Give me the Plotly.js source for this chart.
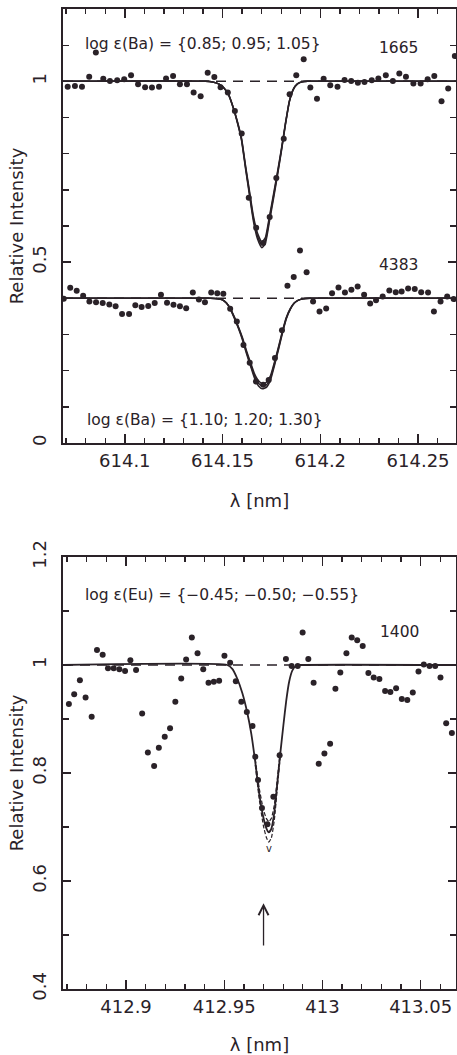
<!DOCTYPE html>
<html>
<head>
<meta charset="utf-8">
<script src="https://cdn.plot.ly/plotly-3.0.1.min.js"></script>
<style>html,body{margin:0;padding:0;background:#fff;}#chart{width:457px;height:1055px;}</style>
</head>
<body>
<div id="chart"></div>
<script>
// ---------- Ba II 614.17 nm panel ----------
const ba1665Wl = [614.0708, 614.0745, 614.0781, 614.0818, 614.0852, 614.0890, 614.0924, 614.0961, 614.0997, 614.1032, 614.1068, 614.1104, 614.1139, 614.1175, 614.1211, 614.1247, 614.1282, 614.1318, 614.1352, 614.1388, 614.1424, 614.1458, 614.1490, 614.1527, 614.1563, 614.1598, 614.1634, 614.1672, 614.1708, 614.1741, 614.1775, 614.1813, 614.1843, 614.1877, 614.1915, 614.1949, 614.1983, 614.2017, 614.2051, 614.2088, 614.2124, 614.2158, 614.2192, 614.2226, 614.2263, 614.2297, 614.2335, 614.2371, 614.2404, 614.2438, 614.2476, 614.2513, 614.2549, 614.2583, 614.2620, 614.2654, 614.2688];
const ba1665Int = [0.985, 0.987, 0.985, 1.013, 1.080, 1.007, 1.001, 1.003, 1.006, 1.017, 0.992, 0.984, 0.983, 0.985, 1.008, 1.015, 0.992, 0.992, 0.969, 0.959, 1.024, 1.012, 0.984, 0.969, 0.918, 0.856, 0.678, 0.595, 0.553, 0.625, 0.733, 0.841, 0.964, 1.017, 1.061, 0.983, 0.952, 1.007, 0.989, 0.985, 1.004, 1.001, 0.996, 0.998, 1.003, 1.008, 1.017, 1.001, 1.022, 1.013, 0.994, 0.994, 1.006, 1.015, 0.945, 0.980, 1.070];

const ba4383Wl = [614.0688, 614.0721, 614.0754, 614.0787, 614.0819, 614.0853, 614.0887, 614.0921, 614.0953, 614.0986, 614.1022, 614.1054, 614.1086, 614.1120, 614.1153, 614.1185, 614.1216, 614.1249, 614.1282, 614.1314, 614.1348, 614.1379, 614.1410, 614.1442, 614.1473, 614.1504, 614.1539, 614.1573, 614.1607, 614.1639, 614.1671, 614.1708, 614.1736, 614.1768, 614.1804, 614.1832, 614.1864, 614.1896, 614.1930, 614.1963, 614.1996, 614.2030, 614.2060, 614.2093, 614.2126, 614.2159, 614.2191, 614.2224, 614.2255, 614.2285, 614.2319, 614.2353, 614.2386, 614.2416, 614.2449, 614.2483, 614.2516, 614.2551, 614.2581, 614.2615, 614.2649, 614.2682];
const ba4383Int = [0.399, 0.429, 0.421, 0.407, 0.391, 0.389, 0.387, 0.383, 0.378, 0.357, 0.357, 0.381, 0.376, 0.379, 0.387, 0.410, 0.388, 0.382, 0.378, 0.373, 0.416, 0.397, 0.389, 0.416, 0.414, 0.413, 0.371, 0.336, 0.271, 0.222, 0.170, 0.161, 0.174, 0.235, 0.312, 0.435, 0.459, 0.532, 0.472, 0.391, 0.364, 0.372, 0.414, 0.430, 0.416, 0.424, 0.433, 0.410, 0.386, 0.395, 0.405, 0.422, 0.417, 0.419, 0.427, 0.426, 0.417, 0.416, 0.364, 0.391, 0.405, 0.398];

// synthetic spectra, log eps(Ba) = 0.85 / 0.95 / 1.05  (star 1665)
const syn1665Wl = [614.0684, 614.1413, 614.1449, 614.1480, 614.1505, 614.1531, 614.1556, 614.1577, 614.1597, 614.1617, 614.1638, 614.1658, 614.1679, 614.1701, 614.1719, 614.1740, 614.1760, 614.1781, 614.1801, 614.1821, 614.1842, 614.1862, 614.1883, 614.1908, 614.1939, 614.2694];
const syn1665A  = [1.000, 1.000, 0.998, 0.993, 0.983, 0.964, 0.926, 0.887, 0.843, 0.769, 0.696, 0.627, 0.580, 0.556, 0.568, 0.627, 0.686, 0.750, 0.813, 0.882, 0.946, 0.978, 0.993, 0.999, 1.000, 1.000];
const syn1665B  = [1.000, 1.000, 0.998, 0.993, 0.983, 0.963, 0.925, 0.885, 0.840, 0.765, 0.690, 0.620, 0.572, 0.548, 0.560, 0.620, 0.680, 0.745, 0.810, 0.880, 0.945, 0.978, 0.993, 0.999, 1.000, 1.000];
const syn1665C  = [1.000, 1.000, 0.998, 0.993, 0.983, 0.962, 0.924, 0.883, 0.837, 0.761, 0.684, 0.613, 0.564, 0.540, 0.552, 0.613, 0.674, 0.740, 0.807, 0.878, 0.944, 0.978, 0.993, 0.999, 1.000, 1.000];

// synthetic spectra, log eps(Ba) = 1.10 / 1.20 / 1.30  (star 4383)
const syn4383Wl = [614.0684, 614.1439, 614.1475, 614.1500, 614.1520, 614.1541, 614.1561, 614.1582, 614.1602, 614.1622, 614.1643, 614.1663, 614.1684, 614.1704, 614.1724, 614.1745, 614.1765, 614.1786, 614.1806, 614.1826, 614.1847, 614.1867, 614.1888, 614.1913, 614.1949, 614.2694];
const syn4383A  = [0.400, 0.400, 0.399, 0.396, 0.387, 0.371, 0.348, 0.320, 0.291, 0.256, 0.223, 0.192, 0.172, 0.164, 0.168, 0.186, 0.223, 0.266, 0.309, 0.347, 0.372, 0.387, 0.395, 0.399, 0.400, 0.400];
const syn4383B  = [0.400, 0.400, 0.399, 0.396, 0.387, 0.370, 0.346, 0.318, 0.288, 0.252, 0.218, 0.186, 0.165, 0.157, 0.161, 0.180, 0.218, 0.262, 0.306, 0.345, 0.371, 0.387, 0.395, 0.399, 0.400, 0.400];
const syn4383C  = [0.400, 0.400, 0.399, 0.396, 0.387, 0.369, 0.344, 0.316, 0.285, 0.248, 0.213, 0.180, 0.158, 0.150, 0.154, 0.174, 0.213, 0.258, 0.303, 0.343, 0.370, 0.387, 0.395, 0.399, 0.400, 0.400];

const baContinuumWl = [614.0684, 614.2694];
const ba1665Cont = [1.0, 1.0];
const ba4383Cont = [0.40, 0.40];

// ---------- Eu II 412.97 nm panel ----------
const eu1400Wl = [412.8709, 412.8736, 412.8765, 412.8794, 412.8825, 412.8852, 412.8881, 412.8908, 412.8937, 412.8966, 412.8995, 412.9022, 412.9051, 412.9082, 412.9111, 412.9143, 412.9167, 412.9197, 412.9224, 412.9251, 412.9281, 412.9306, 412.9335, 412.9364, 412.9393, 412.9420, 412.9447, 412.9474, 412.9501, 412.9530, 412.9559, 412.9587, 412.9615, 412.9644, 412.9658, 412.9672, 412.9692, 412.9720, 412.9750, 412.9782, 412.9814, 412.9843, 412.9874, 412.9899, 412.9928, 412.9955, 412.9981, 413.0010, 413.0039, 413.0066, 413.0091, 413.0122, 413.0149, 413.0177, 413.0205, 413.0234, 413.0261, 413.0290, 413.0319, 413.0346, 413.0375, 413.0404, 413.0432, 413.0460, 413.0489, 413.0516, 413.0545, 413.0574, 413.0601, 413.0630, 413.0659];
const eu1400Int = [0.928, 0.946, 0.972, 0.940, 0.904, 1.028, 1.019, 0.994, 0.994, 0.992, 0.989, 1.009, 0.991, 0.910, 0.838, 0.813, 0.847, 0.867, 0.883, 0.932, 0.975, 1.010, 1.051, 1.022, 0.992, 0.967, 0.969, 0.971, 1.017, 1.004, 0.970, 0.932, 0.913, 0.887, 0.830, 0.787, 0.735, 0.705, 0.756, 0.833, 1.011, 0.998, 0.998, 1.060, 1.011, 0.967, 0.817, 0.836, 0.854, 0.956, 0.986, 1.022, 1.051, 1.046, 1.035, 0.985, 0.977, 0.974, 0.952, 0.950, 0.957, 0.937, 0.935, 0.949, 0.988, 1.001, 0.998, 0.998, 0.977, 0.892, 0.874];

// synthetic, log eps(Eu) = -0.50 (solid)
const synEuWl  = [412.8679, 412.9515, 412.9541, 412.9566, 412.9592, 412.9617, 412.9638, 412.9658, 412.9678, 412.9699, 412.9714, 412.9727, 412.9740, 412.9755, 412.9770, 412.9785, 412.9801, 412.9816, 412.9831, 412.9847, 412.9867, 412.9887, 413.0680];
const synEuMid = [1.000, 1.000, 0.993, 0.975, 0.948, 0.912, 0.872, 0.820, 0.762, 0.718, 0.698, 0.690, 0.697, 0.727, 0.780, 0.835, 0.888, 0.935, 0.970, 0.990, 0.999, 1.000, 1.000];
// log eps(Eu) = -0.55 and -0.45 (dashed, visible only in the core)
const synEuCoreWl = [412.9658, 412.9678, 412.9699, 412.9714, 412.9727, 412.9740, 412.9755, 412.9770, 412.9785];
const synEuLow    = [0.826, 0.772, 0.733, 0.716, 0.710, 0.716, 0.741, 0.789, 0.840];
const synEuHigh   = [0.815, 0.752, 0.703, 0.681, 0.672, 0.680, 0.713, 0.771, 0.830];
const euContinuumWl = [412.8679, 413.0680];
const euCont = [1.0, 1.0];

// ticks
const baXTicks = [614.1, 614.15, 614.2, 614.25];
const baXTickText = ['614.1', '614.15', '614.2', '614.25'];
const baYTicks = [0, 0.5, 1];
const baYTickText = ['0', '0.5', '1'];
const euXTicks = [412.9, 412.95, 413, 413.05];
const euXTickText = ['412.9', '412.95', '413', '413.05'];
const euYTicks = [0.4, 0.6, 0.8, 1, 1.2];
const euYTickText = ['0.4', '0.6', '0.8', '1', '1.2'];

const INK = '#2a2228';
const FONT = 'DejaVu Sans, Arial, sans-serif';

function obs(x, y, xa, ya) {
  return {x: x, y: y, xaxis: xa, yaxis: ya, type: 'scatter', mode: 'markers',
          marker: {size: 6, color: INK}, hoverinfo: 'skip', showlegend: false};
}
function syn(x, y, xa, ya, dash, w) {
  return {x: x, y: y, xaxis: xa, yaxis: ya, type: 'scatter', mode: 'lines',
          line: {color: INK, width: w || 1.5, dash: dash || 'solid', shape: 'spline', smoothing: 0.5},
          hoverinfo: 'skip', showlegend: false};
}
function cont(x, y, xa, ya) {
  return {x: x, y: y, xaxis: xa, yaxis: ya, type: 'scatter', mode: 'lines',
          line: {color: INK, width: 1.5, dash: '10px,7px'}, hoverinfo: 'skip', showlegend: false};
}

const traces = [
  cont(baContinuumWl, ba1665Cont, 'x', 'y'),
  cont(baContinuumWl, ba4383Cont, 'x', 'y'),
  syn(syn1665Wl, syn1665A, 'x', 'y'),
  syn(syn1665Wl, syn1665B, 'x', 'y'),
  syn(syn1665Wl, syn1665C, 'x', 'y'),
  syn(syn4383Wl, syn4383A, 'x', 'y'),
  syn(syn4383Wl, syn4383B, 'x', 'y'),
  syn(syn4383Wl, syn4383C, 'x', 'y'),
  obs(ba1665Wl, ba1665Int, 'x', 'y'),
  obs(ba4383Wl, ba4383Int, 'x', 'y'),
  cont(euContinuumWl, euCont, 'x2', 'y2'),
  syn(synEuWl, synEuMid, 'x2', 'y2', 'solid', 1.8),
  syn(synEuCoreWl, synEuLow, 'x2', 'y2', '4px,2px', 1.2),
  syn(synEuCoreWl, synEuHigh, 'x2', 'y2', '4px,2px', 1.2),
  obs(eu1400Wl, eu1400Int, 'x2', 'y2')
];

const tickFont = {family: FONT, size: 18, color: INK};
const titleFont = {family: FONT, size: 18, color: INK};

function xAxis(range, tv, tt, anchor) {
  return {range: range, tickmode: 'array', tickvals: tv, ticktext: tt, anchor: anchor,
          ticks: 'inside', ticklen: 9, tickwidth: 1.5, tickcolor: INK,
          minor: {dtick: 0.01, tick0: 0, ticks: 'inside', ticklen: 5, tickwidth: 1.3, tickcolor: INK},
          showline: true, linecolor: INK, linewidth: 2, mirror: 'ticks',
          showgrid: false, zeroline: false, tickfont: tickFont, ticklabelstandoff: 0,
          title: {text: 'λ [nm]', font: titleFont, standoff: 25}};
}
function yAxis(range, tv, tt, domain, anchor) {
  return {range: range, domain: domain, tickmode: 'array', tickvals: tv, ticktext: tt, anchor: anchor,
          ticks: 'inside', ticklen: 8, tickwidth: 1.5, tickcolor: INK, tickangle: -90,
          minor: {dtick: 0.1, tick0: 0, ticks: 'inside', ticklen: 6, tickwidth: 1.3, tickcolor: INK},
          showline: true, linecolor: INK, linewidth: 2, mirror: 'ticks',
          showgrid: false, zeroline: false, tickfont: tickFont, ticklabelstandoff: 8,
          title: {text: 'Relative Intensity', font: titleFont, standoff: 0}};
}

const annFont = {family: FONT, size: 15.5, color: INK};
const layout = {
  width: 457, height: 1055,
  margin: {l: 63, r: 1, t: 9, b: 66},
  paper_bgcolor: '#fff', plot_bgcolor: '#fff',
  showlegend: false,
  xaxis: xAxis([614.0684, 614.2694], baXTicks, baXTickText, 'y'),
  yaxis: yAxis([0, 1.2], baYTicks, baYTickText, [0.5571, 1], 'x'),
  xaxis2: xAxis([412.8679, 413.0680], euXTicks, euXTickText, 'y2'),
  yaxis2: yAxis([0.4, 1.2], euYTicks, euYTickText, [0, 0.4408], 'x2'),
  annotations: [
    {xref: 'x', yref: 'y', x: 614.0786, y: 1.102, xanchor: 'left', yanchor: 'middle', showarrow: false,
     text: 'log ε(Ba) = {0.85; 0.95; 1.05}', font: annFont},
    {xref: 'x', yref: 'y', x: 614.2398, y: 1.091, xanchor: 'center', yanchor: 'middle', showarrow: false,
     text: '1665', font: annFont},
    {xref: 'x', yref: 'y', x: 614.2398, y: 0.493, xanchor: 'center', yanchor: 'middle', showarrow: false,
     text: '4383', font: annFont},
    {xref: 'x', yref: 'y', x: 614.0796, y: 0.064, xanchor: 'left', yanchor: 'middle', showarrow: false,
     text: 'log ε(Ba) = {1.10; 1.20; 1.30}', font: annFont},
    {xref: 'x2', yref: 'y2', x: 412.8781, y: 1.130, xanchor: 'left', yanchor: 'middle', showarrow: false,
     text: 'log ε(Eu) = {−0.45; −0.50; −0.55}', font: annFont},
    {xref: 'x2', yref: 'y2', x: 413.0392, y: 1.061, xanchor: 'center', yanchor: 'middle', showarrow: false,
     text: '1400', font: annFont},
    {xref: 'x2', yref: 'y2', x: 412.9727, y: 0.660, xanchor: 'center', yanchor: 'middle', showarrow: false,
     text: 'v', font: {family: FONT, size: 10, color: INK}},
    {xref: 'x2', yref: 'y2', x: 412.970, y: 0.559, axref: 'x2', ayref: 'y2', ax: 412.970, ay: 0.478,
     text: '', showarrow: true, arrowhead: 5, arrowsize: 1.5, arrowwidth: 1.3, arrowcolor: INK}
  ]
};

Plotly.newPlot('chart', traces, layout, {staticPlot: true, displayModeBar: false});
</script>
</body>
</html>
